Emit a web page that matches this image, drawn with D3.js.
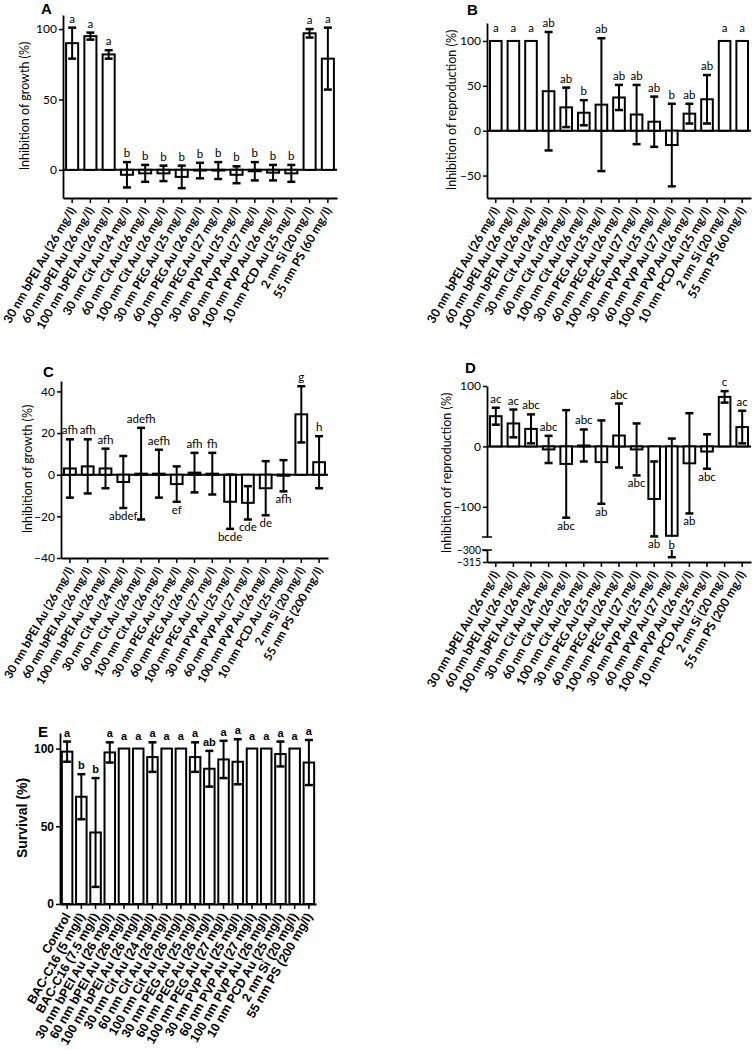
<!DOCTYPE html>
<html>
<head>
<meta charset="utf-8">
<script src="https://cdnjs.cloudflare.com/ajax/libs/d3/7.8.5/d3.min.js"></script>
<style>
  body { margin: 0; background: #fff; }
  svg text { fill: #000; }
</style>
</head>
<body>
<svg id="chart" width="752" height="1050"></svg>
<script>
// category labels
var nanoCats = ['30 nm bPEI Au (26 mg/l)', '60 nm bPEI Au (26 mg/l)', '100 nm bPEI Au (26 mg/l)',
  '30 nm Cit Au (24 mg/l)', '60 nm Cit Au (26 mg/l)', '100 nm Cit Au (26 mg/l)',
  '30 nm PEG Au (25 mg/l)', '60 nm PEG Au (26 mg/l)', '100 nm PEG Au (27 mg/l)',
  '30 nm PVP Au (25 mg/l)', '60 nm PVP Au (27 mg/l)', '100 nm PVP Au (26 mg/l)',
  '10 nm PCD Au (25 mg/l)', '2 nm Si (20 mg/l)'];
var catsAB = nanoCats.concat(['55 nm PS (60 mg/l)']);
var catsCD = nanoCats.concat(['55 nm PS (200 mg/l)']);
var catsE = ['Control', 'BAC-C16 (5 mg/l)', 'BAC-C16 (7.5 mg/l)'].concat(catsCD);

// A: inhibition of growth
var meanA = [90, 95, 82, -3.5, -2.5, -2.5, -5, -0.5, -0.5, -3.5, -1, -2, -2.5, 97, 79];
var sdA = [11, 2.5, 3, 9, 6, 5.5, 8, 5.5, 6, 6, 6.5, 5.5, 6, 3, 22];
var sigA = ['a', 'a', 'a', 'b', 'b', 'b', 'b', 'b', 'b', 'b', 'b', 'b', 'b', 'a', 'a'];
var ticksA = [0, 50, 100];

// B: inhibition of reproduction
var meanB = [100, 100, 100, 44, 26, 20, 29, 37, 18, 10, -16, 19, 35, 100, 100];
var sdB = [0, 0, 0, 66, 22, 14, 74, 14, 33, 28, 46, 11, 27, 0, 0];
var sigB = ['a', 'a', 'a', 'ab', 'ab', 'b', 'ab', 'ab', 'ab', 'ab', 'b', 'ab', 'ab', 'a', 'a'];
var ticksB = [-50, 0, 50, 100];

// C: inhibition of growth
var meanC = [3, 4, 3, -3.5, 0.5, 0.5, -4.5, 1, 0.5, -13, -13.5, -6.5, -0.5, 29, 6];
var sdC = [14, 13, 9.5, 12.5, 22, 11.5, 8.5, 9.5, 10, 13, 8, 13, 7.5, 13.5, 12.5];
var sigC = ['afh', 'afh', 'afh', 'abdef', 'adefh', 'aefh', 'ef', 'afh', 'fh', 'bcde', 'cde', 'de', 'afh', 'g', 'h'];
var sigBelowC = [3, 6, 9, 10, 11, 12];
var ticksC = [-40, -20, 0, 20, 40];

// D: inhibition of reproduction (broken axis)
var meanD = [50, 38, 29, -5, -29, 1.5, -26, 18, -5, -87, -148, -28, -8.5, 82, 32];
var sdD = [14, 23, 24, 22.5, 89, 26.5, 69, 53, 43, 62, 161, 83, 28.5, 9.5, 27];
var sigD = ['ac', 'ac', 'abc', 'abc', 'abc', 'abc', 'ab', 'abc', 'abc', 'ab', 'b', 'ab', 'abc', 'c', 'ac'];
var sigBelowD = [4, 6, 8, 9, 10, 11, 12];
var ticksDUpper = [-100, 0, 100];
var ticksDLower = [-315, -300];

// E: survival
var meanE = [98, 69, 46, 97.5, 100, 100, 94.5, 100, 100, 94.5, 87, 93, 91.5, 100, 100, 96.5, 100, 91];
var sdE = [6.5, 14.5, 35, 6.5, 0, 0, 9.5, 0, 0, 9.5, 11.5, 12, 14.5, 0, 0, 8, 0, 14.5];
var sigE = ['a', 'b', 'b', 'a', 'a', 'a', 'a', 'a', 'a', 'a', 'ab', 'a', 'a', 'a', 'a', 'a', 'a', 'a'];
var ticksE = [0, 50, 100];

var svg = d3.select('#chart');
var calibri = 'Lato, "Open Sans", sans-serif';
var arial = '"Liberation Sans", Arial, sans-serif';

function drawPanel(p) {
  var g = svg.append('g');
  var x = d3.scaleBand().domain(p.cats).range(p.xRange);
  var step = x.bandwidth();
  var bw = step * p.barFrac;
  var capW = 8;
  var y = p.y;

  var rows = p.mean.map(function(m, i) {
    return { cat: p.cats[i], mean: m, sd: p.sd[i], sig: p.sig[i],
      below: (p.below || []).indexOf(i) >= 0 };
  });
  var cx = function(d) { return x(d.cat) + step / 2; };

  // zero line across the plot
  if (p.zeroLine) {
    g.append('line')
      .attr('x1', p.xRange[0]).attr('x2', p.xRange[1])
      .attr('y1', y(0)).attr('y2', y(0))
      .attr('stroke', '#000').attr('stroke-width', 2);
  }

  // bars
  g.selectAll('rect.bar').data(rows).enter().append('rect')
    .attr('class', 'bar')
    .attr('x', function(d) { return cx(d) - bw / 2; })
    .attr('y', function(d) { return Math.min(y(0), y(d.mean)); })
    .attr('width', bw)
    .attr('height', function(d) { return Math.abs(y(d.mean) - y(0)); })
    .attr('fill', '#fff').attr('stroke', '#000').attr('stroke-width', 2);

  // error bars
  rows.filter(function(d) { return d.sd > 0; }).forEach(function(d) {
    var hi = d.mean + d.sd, lo = d.mean - d.sd, xc = cx(d);
    var segs = [[hi, lo]];
    if (p.gap && lo < p.gap[0]) segs = [[hi, p.gap[0]], [p.gap[1], lo]];
    segs.forEach(function(s) {
      g.append('line').attr('x1', xc).attr('x2', xc)
        .attr('y1', y(s[0])).attr('y2', y(s[1]))
        .attr('stroke', '#000').attr('stroke-width', 2);
    });
    [hi, lo].forEach(function(v) {
      g.append('line').attr('x1', xc - capW / 2).attr('x2', xc + capW / 2)
        .attr('y1', y(v)).attr('y2', y(v))
        .attr('stroke', '#000').attr('stroke-width', 2.5);
    });
  });

  // significance letters
  g.selectAll('text.sig').data(rows).enter().append('text')
    .attr('class', 'sig')
    .attr('x', cx)
    .attr('y', function(d) {
      if (d.below) {
        var lo = d.mean - d.sd;
        if (p.gap) lo = Math.max(lo, p.gap[0]);
        return y(lo) + 12;
      }
      return d.sd > 0 ? y(d.mean + d.sd) - 5 : y(d.mean) - 9;
    })
    .attr('text-anchor', 'middle')
    .style('font-family', p.font).style('font-weight', p.weight)
    .style('font-size', p.sigSize + 'px')
    .text(function(d) { return d.sig; });

  // y axis
  p.yAxes.forEach(function(ax) {
    var a = g.append('g').attr('transform', 'translate(' + p.xRange[0] + ',0)')
      .call(d3.axisLeft(ax.scale).tickValues(ax.ticks).tickSize(4).tickSizeOuter(0).tickPadding(2));
    a.select('.domain').attr('stroke-width', 1.8);
    a.selectAll('.tick line').attr('stroke-width', 1.5);
    a.selectAll('text').style('font-family', p.font).style('font-weight', p.weight)
      .style('font-size', (ax.size || p.tickSize) + 'px');
  });
  (p.breaks || []).forEach(function(v) {
    g.append('line').attr('x1', p.xRange[0] - 5).attr('x2', p.xRange[0] + 5)
      .attr('y1', y(v)).attr('y2', y(v)).attr('stroke', '#000').attr('stroke-width', 1.5);
  });

  // x axis
  var xa = g.append('g').attr('transform', 'translate(0,' + p.axisY + ')')
    .call(d3.axisBottom(x).tickSize(5).tickSizeOuter(0));
  xa.select('.domain').attr('stroke-width', 1.8);
  xa.selectAll('.tick line').attr('stroke-width', 1.5);
  xa.selectAll('.tick text')
    .attr('x', 0).attr('y', 0).attr('dy', 0)
    .attr('text-anchor', 'end')
    .attr('transform', 'translate(4,12) rotate(-60)')
    .style('font-family', p.font).style('font-weight', p.labelWeight)
    .style('font-size', p.labelSize + 'px');

  // axis title
  g.append('text')
    .attr('transform', 'translate(' + p.title[1] + ',' + p.title[2] + ') rotate(-90)')
    .attr('text-anchor', 'middle').attr('dy', '0.35em')
    .style('font-family', p.font).style('font-weight', p.titleWeight)
    .style('font-size', p.titleSize + 'px')
    .text(p.title[0]);

  // panel letter
  g.append('text').attr('x', p.letter[1]).attr('y', p.letter[2])
    .style('font-family', arial).style('font-weight', 'bold').style('font-size', '15px')
    .text(p.letter[0]);
}

var base = { font: calibri, weight: 'normal', labelWeight: 'bold', titleWeight: 'normal',
  tickSize: 12, labelSize: 12.2, titleSize: 12.5, sigSize: 11.5, barFrac: 0.66, zeroLine: true };

var yA = d3.scaleLinear().domain([-20, 110]).range([198, 15]);
drawPanel(Object.assign({}, base, {
  cats: catsAB, mean: meanA, sd: sdA, sig: sigA,
  xRange: [63, 337], y: yA, axisY: 198, yAxes: [{ scale: yA, ticks: ticksA }],
  title: ['Inhibition of growth (%)', 25, 106], letter: ['A', 41, 14]
}));

var yB = d3.scaleLinear().domain([-75, 120]).range([198, 23]);
drawPanel(Object.assign({}, base, {
  cats: catsAB, mean: meanB, sd: sdB, sig: sigB,
  xRange: [487, 751], y: yB, axisY: 198, yAxes: [{ scale: yB, ticks: ticksB }],
  title: ['Inhibition of reproduction (%)', 452, 110], letter: ['B', 467, 15]
}));

var yC = d3.scaleLinear().domain([-40, 45]).range([558, 381]);
drawPanel(Object.assign({}, base, {
  labelSize: 11.7,
  cats: catsCD, mean: meanC, sd: sdC, sig: sigC, below: sigBelowC,
  xRange: [61, 328], y: yC, axisY: 558, yAxes: [{ scale: yC, ticks: ticksC }],
  title: ['Inhibition of growth (%)', 28, 469], letter: ['C', 43, 377]
}));

var yDUpper = d3.scaleLinear().domain([-150, 100]).range([537, 386]);
var yDLower = d3.scaleLinear().domain([-315, -300]).range([562, 550]);
var yD = function(v) {
  if (v >= -150) return yDUpper(v);
  if (v <= -300) return yDLower(v);
  return yDUpper(-150) + (v + 150) / -150 * (yDLower(-300) - yDUpper(-150));
};
drawPanel(Object.assign({}, base, {
  cats: catsCD, mean: meanD, sd: sdD, sig: sigD, below: sigBelowD, gap: [-150, -300],
  xRange: [487, 751], y: yD, axisY: 562,
  yAxes: [{ scale: yDUpper, ticks: ticksDUpper }, { scale: yDLower, ticks: ticksDLower, size: 10.5 }],
  breaks: [-150, -300],
  title: ['Inhibition of reproduction (%)', 447, 473], letter: ['D', 465, 373]
}));

var yE = d3.scaleLinear().domain([0, 110]).range([904, 733]);
drawPanel(Object.assign({}, base, {
  font: arial, weight: 'bold', titleWeight: 'bold', tickSize: 12, labelSize: 12.6, titleSize: 14,
  sigSize: 11, barFrac: 0.74, zeroLine: false,
  cats: catsE, mean: meanE, sd: sdE, sig: sigE,
  xRange: [60, 316], y: yE, axisY: 904, yAxes: [{ scale: yE, ticks: ticksE }],
  title: ['Survival (%)', 22, 818], letter: ['E', 38, 737]
}));
</script>
</body>
</html>
